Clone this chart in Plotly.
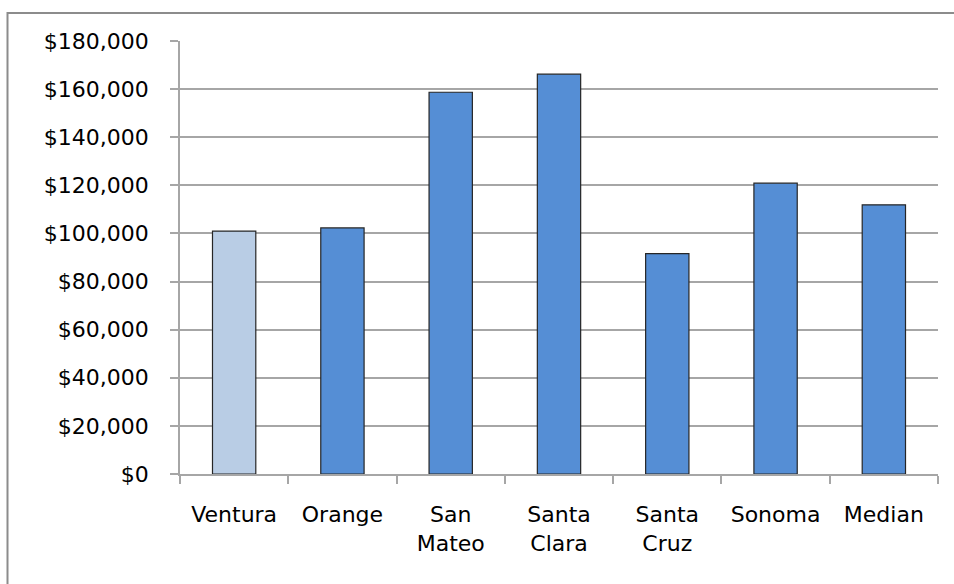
import plotly.graph_objects as go

# County values (USD)
counties = ["Ventura", "Orange", "San<br>Mateo", "Santa<br>Clara", "Santa<br>Cruz", "Sonoma", "Median"]
values = [101000, 102300, 158700, 166200, 91600, 120900, 111900]
bar_colors = ["#B9CDE5", "#558ED5", "#558ED5", "#558ED5", "#558ED5", "#558ED5", "#558ED5"]
y_ticks = list(range(0, 180001, 20000))

FONT = "DejaVu Sans, Liberation Sans, Arial, sans-serif"

fig = go.Figure(
    go.Bar(
        x=counties,
        y=values,
        width=0.40,
        marker=dict(color=bar_colors, line=dict(color="#262626", width=1.2)),
        hoverinfo="x+y",
    )
)

# Plot area: x 180..938 px, y 41..474 px
L, R, T, B = 180, 16, 41, 110
W, H = 954, 584
pw, ph = W - L - R, H - T - B

fig.update_layout(
    width=W,
    height=H,
    margin=dict(l=L, r=R, t=T, b=B, pad=0),
    paper_bgcolor="white",
    plot_bgcolor="white",
    showlegend=False,
    bargap=0.6,
    font=dict(family=FONT, size=22, color="black"),
    shapes=[
        # outer chart frame (runs off the right and bottom edges)
        dict(
            type="rect",
            xref="paper",
            yref="paper",
            x0=(7.5 - L) / pw,
            x1=(W + 20 - L) / pw,
            y0=-(H + 20 - (H - B)) / ph,
            y1=((H - B) - 13) / ph,
            line=dict(color="#8C8C8C", width=2),
            fillcolor="rgba(0,0,0,0)",
            layer="below",
        )
    ],
)

fig.update_xaxes(
    type="category",
    showline=True,
    linecolor="#A6A6A6",
    linewidth=1.5,
    ticks="outside",
    tickson="boundaries",
    ticklen=8,
    tickcolor="#A6A6A6",
    tickwidth=1.5,
    showgrid=False,
    tickfont=dict(family=FONT, size=22, color="black"),
    ticklabelstandoff=20,
)

fig.update_yaxes(
    range=[0, 180000],
    tickvals=y_ticks,
    tickformat="$,.0f",
    showline=True,
    linecolor="#A6A6A6",
    linewidth=1.5,
    ticks="outside",
    ticklen=8,
    tickcolor="#A6A6A6",
    tickwidth=1.5,
    showgrid=True,
    gridcolor="#A6A6A6",
    gridwidth=1.5,
    zeroline=False,
    tickfont=dict(family=FONT, size=22, color="black"),
    ticklabelstandoff=17,
)

fig.write_html("out.html")
